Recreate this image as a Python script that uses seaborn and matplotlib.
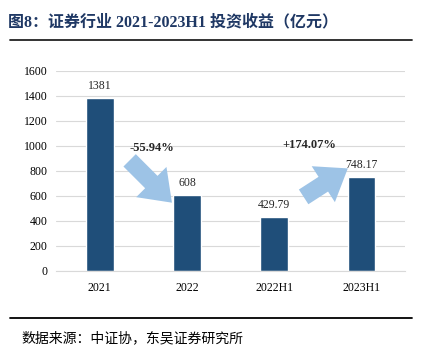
import numpy as np
import pandas as pd
import matplotlib
matplotlib.use('Agg')
import matplotlib.pyplot as plt
import seaborn as sns
from matplotlib.patches import FancyArrowPatch
from matplotlib.lines import Line2D

# dados
categorias = ['2021', '2022', '2022H1', '2023H1']
valores = [1381, 608, 429.79, 748.17]
rotulos = ['1381', '608', '429.79', '748.17']
variacoes = ['-55.94%', '+174.07%']

sns.set_style('white')
plt.rcParams['font.family'] = ['Liberation Serif', 'Noto Sans CJK SC', 'DejaVu Sans']

fig = plt.figure(figsize=(4.22, 3.56), dpi=100)
ax = fig.add_axes([0.133, 0.239, 0.827, 0.562])

df = pd.DataFrame({'cat': categorias, 'val': valores})
sns.barplot(data=df, x='cat', y='val', color='#1f4e79', width=0.32, ax=ax, saturation=1)

ax.set_ylim(0, 1600)
ax.set_yticks(range(0, 1601, 200))
ax.grid(axis='y', color='#d9d9d9', linewidth=0.8)
ax.set_axisbelow(True)
for s in ['top', 'right', 'left']:
    ax.spines[s].set_visible(False)
ax.spines['bottom'].set_color('#d9d9d9')
ax.tick_params(axis='both', length=0, labelsize=8.5, colors='black')
ax.tick_params(axis='x', pad=8)
ax.tick_params(axis='y', pad=6)
ax.set_xlabel('')
ax.set_ylabel('')

# rótulos das barras
for i, (v, r) in enumerate(zip(valores, rotulos)):
    ax.text(i, v + 50, r, ha='center', va='bottom', fontsize=8.5)

# setas
seta1 = FancyArrowPatch((0.32, 900), (0.85, 530), arrowstyle='simple,head_width=2.2,head_length=1.5,tail_width=0.9',
                        mutation_scale=14, color='#9dc3e6', lw=0)
ax.add_patch(seta1)
seta2 = FancyArrowPatch((2.31, 580), (2.87, 832), arrowstyle='simple,head_width=2.2,head_length=1.5,tail_width=0.9',
                        mutation_scale=14, color='#9dc3e6', lw=0)
ax.add_patch(seta2)
ax.text(0.6, 985, variacoes[0], ha='center', va='center', fontsize=9, fontweight='bold')
ax.text(2.4, 1010, variacoes[1], ha='center', va='center', fontsize=9, fontweight='bold')

# titulo e fonte
fig.text(0.018, 0.938, '图8：证券行业 2021-2023H1 投资收益（亿元）', fontsize=11.5, fontweight='bold',
         color='#1f3864', va='center', ha='left')
fig.add_artist(Line2D([0.024, 0.976], [0.888, 0.888], color='#222222', linewidth=1.3, transform=fig.transFigure))
fig.add_artist(Line2D([0.024, 0.976], [0.107, 0.107], color='black', linewidth=1.3, transform=fig.transFigure))
fig.text(0.05, 0.05, '数据来源：中证协，东吴证券研究所', fontsize=10, color='black', va='center', ha='left')

fig.savefig('out.png', dpi=100)
